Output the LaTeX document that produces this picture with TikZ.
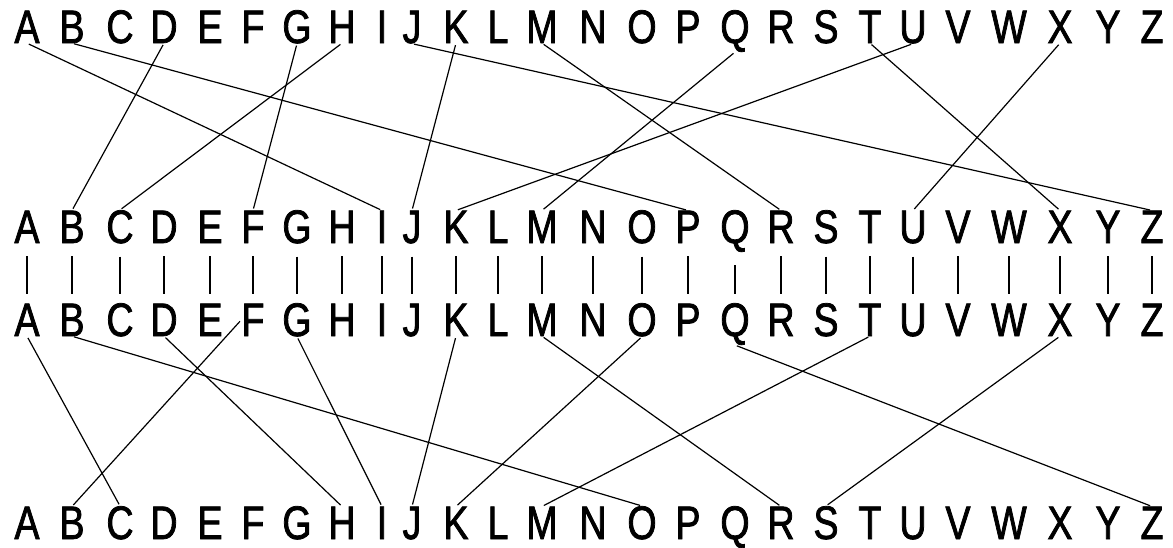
\documentclass[tikz,border=0pt]{standalone}
\usepackage{fontspec}
\setmainfont{Liberation Sans}[FakeStretch=0.8,FakeBold=1.6]
\begin{document}
\begin{tikzpicture}[x=1pt,y=-1pt,
  letter/.style={inner sep=0pt, anchor=base, font=\fontsize{47}{47}\selectfont},
  wire/.style={line width=1.2pt, shorten <=2pt, shorten >=2pt},
  bar/.style={line width=2.6pt, shorten <=13pt, shorten >=9pt}]
\useasboundingbox (0,0) rectangle (1173,547);
\foreach \l/\x in {A/27,B/72,C/120,D/164,E/210,F/253,G/297,H/342,I/382,J/412,K/456,L/498,M/542,N/593,O/642,P/688,Q/735,R/781,S/826,T/870,U/913,V/958,W/1009,X/1060,Y/1108,Z/1152}{
  \node[letter] (\l1) at (\x,43) {\l};
  \node[letter] (\l2) at (\x,243) {\l};
  \node[letter] (\l3) at (\x,336) {\l};
  \node[letter] (\l4) at (\x,539) {\l};
  \draw[bar] (\l2.south) -- (\l3.north);
}
% upper wiring
\foreach \s/\t in {A/I,B/P,D/B,G/F,H/C,J/Z,K/J,M/R,Q/M,T/X,U/K,X/U}{
  \draw[wire] (\s1.south) -- (\t2.north);
}
% lower wiring
\foreach \s/\t in {A/C,B/O,D/H,G/I,K/J,M/R,O/K,Q/Z,T/M,X/S}{
  \draw[wire] (\s3.south) -- (\t4.north);
}
\draw[wire] (F3.west) -- (B4.north);
\end{tikzpicture}
\end{document}
